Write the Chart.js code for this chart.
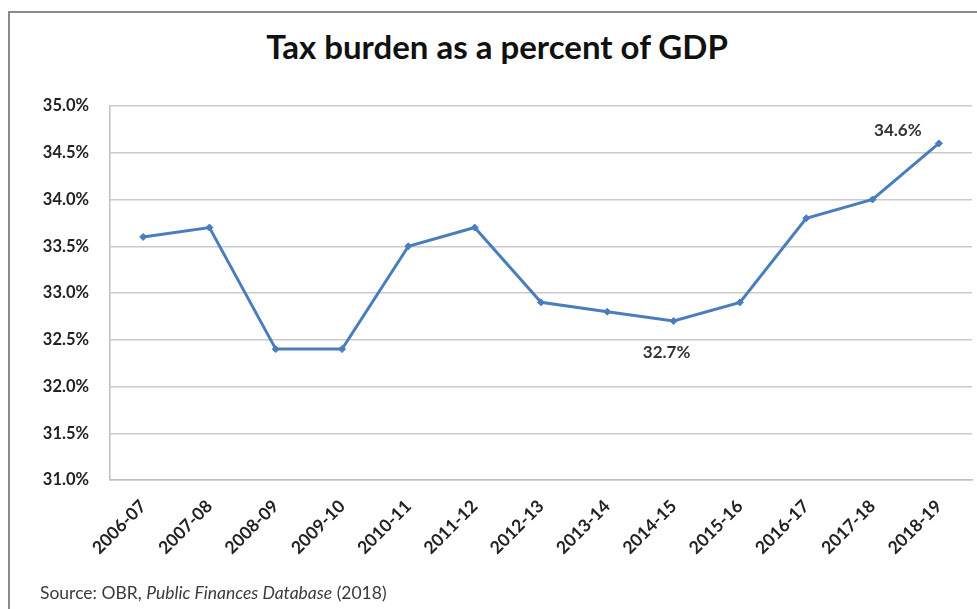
<!DOCTYPE html>
<html>
<head>
<meta charset="utf-8">
<script src="https://cdn.jsdelivr.net/npm/chart.js@4.4.1/dist/chart.umd.min.js"></script>
<style>
  html, body { margin: 0; padding: 0; background: #fff; }
  #wrap { position: relative; width: 977px; height: 609px; overflow: hidden; }
  #frame { position: absolute; left: 8px; top: 11px; width: 990px; height: 640px; border: 2px solid #8a8a8a; box-sizing: border-box; }
  #title { position: absolute; left: 0; width: 994px; top: 26px; text-align: center; font-family: Lato, "Open Sans", sans-serif; font-weight: bold; font-size: 33px; color: #111; }
  #source { position: absolute; left: 40px; top: 582px; font-family: Lato, "Open Sans", sans-serif; font-size: 17.5px; color: #3a3a3a; }
  canvas { position: absolute; left: 0; top: 0; }
</style>
</head>
<body>
<div id="wrap">
  <div id="frame"></div>
  <div id="title">Tax burden as a percent of GDP</div>
  <canvas id="c" width="977" height="609"></canvas>
  <div id="source">Source: OBR, <i>Public Finances Database</i> (2018)</div>
</div>
<script>
const categories = ["2006-07","2007-08","2008-09","2009-10","2010-11","2011-12","2012-13","2013-14","2014-15","2015-16","2016-17","2017-18","2018-19"];
const taxBurden = [33.6, 33.7, 32.4, 32.4, 33.5, 33.7, 32.9, 32.8, 32.7, 32.9, 33.8, 34.0, 34.6];
const labelledPoints = ["", "", "", "", "", "", "", "", "32.7%", "", "", "", "34.6%"];
const yTicks = [31.0, 31.5, 32.0, 32.5, 33.0, 33.5, 34.0, 34.5, 35.0];

const labelOffsets = { 8: [-7, 31], 12: [-41, -13] };

const dataLabelPlugin = {
  id: 'dataLabels',
  afterDatasetsDraw(chart) {
    const ctx = chart.ctx;
    const meta = chart.getDatasetMeta(0);
    ctx.save();
    ctx.font = 'bold 17px Lato, "Open Sans", sans-serif';
    ctx.fillStyle = '#333';
    ctx.textAlign = 'center';
    ctx.textBaseline = 'middle';
    labelledPoints.forEach((t, i) => {
      if (!t) return;
      const p = meta.data[i];
      const off = labelOffsets[i] || [0, -15];
      ctx.fillText(t, p.x + off[0], p.y + off[1]);
    });
    ctx.restore();
  }
};

new Chart(document.getElementById('c'), {
  type: 'line',
  data: {
    labels: categories,
    datasets: [{
      data: taxBurden,
      borderColor: '#4a7ebb',
      backgroundColor: '#4a7ebb',
      borderWidth: 3,
      pointStyle: 'rectRot',
      pointRadius: 3.5,
      pointBorderWidth: 1,
      tension: 0,
      fill: false
    }]
  },
  options: {
    responsive: false,
    animation: false,
    devicePixelRatio: 1,
    layout: { padding: { left: 0, right: 5, top: 106, bottom: 0 } },
    plugins: { legend: { display: false }, tooltip: { enabled: false } },
    scales: {
      x: {
        offset: true,
        grid: { display: false, drawTicks: false },
        border: { display: true, color: '#c0c0c0', width: 1.5 },
        ticks: {
          minRotation: 45, maxRotation: 45, autoSkip: false, padding: 16,
          color: '#222',
          font: { family: 'Lato, "Open Sans", sans-serif', size: 17.5, weight: 'bold' }
        },
        afterFit(scale) { scale.height = 129; }
      },
      y: {
        min: 31, max: 35,
        afterBuildTicks(scale) { scale.ticks = yTicks.map(v => ({ value: v })); },
        grid: { color: '#cacaca', lineWidth: 1.5, drawTicks: false },
        border: { display: true, color: '#c0c0c0', width: 1.5 },
        ticks: {
          padding: 21,
          color: '#222',
          font: { family: 'Lato, "Open Sans", sans-serif', size: 16.5, weight: 'bold' },
          callback: v => Number(v).toFixed(1) + '%'
        },
        afterFit(scale) { scale.width = 110; }
      }
    }
  },
  plugins: [dataLabelPlugin]
});
</script>
</body>
</html>
